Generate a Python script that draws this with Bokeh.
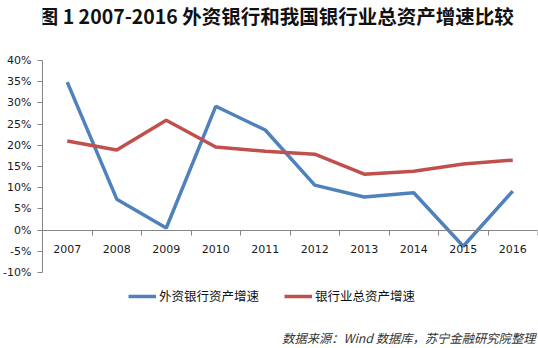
from bokeh.plotting import figure
from bokeh.models import (FixedTicker, Range1d, Legend, LegendItem, Label, ColumnDataSource)
from bokeh.embed import file_html
from bokeh.resources import INLINE

years = ["2007", "2008", "2009", "2010", "2011", "2012", "2013", "2014", "2015", "2016"]
foreign_growth = [34.9, 7.3, 0.5, 29.2, 23.6, 10.6, 7.8, 8.8, -3.8, 9.2]
industry_growth = [21.0, 18.9, 25.9, 19.6, 18.6, 17.9, 13.2, 13.9, 15.6, 16.5]
y_ticks = [-10, -5, 0, 5, 10, 15, 20, 25, 30, 35, 40]
title_text = "图 1  2007-2016 外资银行和我国银行业总资产增速比较"
series_names = ["外资银行资产增速", "银行业总资产增速"]
source_text = "数据来源：Wind 数据库，苏宁金融研究院整理"

# frame geometry (pixels): frame spans y=0..FB, 40% at y=60, -10% at y=272
FB = 348
ppu = (272 - 60) / 50.0
y_top = 40 + 60 / ppu
y_bot = -10 - (FB - 272) / ppu

xs = list(range(len(years)))
src = ColumnDataSource(dict(x=xs, a=foreign_growth, b=industry_growth))

p = figure(width=538, height=348, output_backend="svg", toolbar_location=None,
           x_range=Range1d(-0.5, 9.5), y_range=Range1d(y_bot, y_top),
           min_border_left=37, min_border_right=1, min_border_top=0, min_border_bottom=0)
p.title.visible = False
p.outline_line_color = None
p.grid.grid_line_color = None
p.background_fill_color = "white"
p.border_fill_color = "white"

axis_color = "#868686"
# x axis
p.xaxis.fixed_location = 0
p.xaxis.bounds = (-0.5, 9.5)
p.xaxis.ticker = FixedTicker(ticks=xs, minor_ticks=[i + 0.5 for i in xs])
p.xaxis.major_label_overrides = {i: y for i, y in enumerate(years)}
p.xaxis.major_tick_out = 0
p.xaxis.major_tick_in = 0
p.xaxis.minor_tick_out = 5
p.xaxis.minor_tick_in = 0
p.xaxis.minor_tick_line_color = axis_color
p.xaxis.axis_line_color = axis_color
p.xaxis.major_label_text_font = "DejaVu Sans"
p.xaxis.major_label_text_font_size = "11px"
p.xaxis.major_label_text_color = "#1a1a1a"
p.xaxis.major_label_standoff = 10

# y axis
p.yaxis.bounds = (-10, 40)
p.yaxis.ticker = FixedTicker(ticks=y_ticks)
p.yaxis.major_label_overrides = {t: f"{t}%" for t in y_ticks}
p.yaxis.minor_tick_line_color = None
p.yaxis.major_tick_out = 5
p.yaxis.major_tick_in = 0
p.yaxis.major_tick_line_color = axis_color
p.yaxis.axis_line_color = axis_color
p.yaxis.major_label_text_font = "DejaVu Sans"
p.yaxis.major_label_text_font_size = "11px"
p.yaxis.major_label_text_color = "#1a1a1a"
p.yaxis.major_label_standoff = 6

r1 = p.line("x", "a", source=src, line_color="#4F81BD", line_width=3.5)
r2 = p.line("x", "b", source=src, line_color="#C0504D", line_width=3.5)

legend = Legend(items=[LegendItem(label=series_names[0], renderers=[r1]),
                       LegendItem(label=series_names[1], renderers=[r2])],
                orientation="horizontal", location=(86, FB - 305),
                glyph_width=28, glyph_height=14, label_standoff=3, spacing=25,
                padding=0, margin=0, border_line_color=None, background_fill_alpha=0,
                label_text_font="Noto Sans CJK SC", label_text_font_size="12.5px",
                label_text_color="#111111")
p.add_layout(legend, "center")

title = Label(x=273 - 37, y=FB - 15, x_units="screen", y_units="screen", text=title_text,
              text_align="center", text_baseline="middle", text_font="Noto Sans CJK SC",
              text_font_style="bold", text_font_size="19.5px", text_color="#111111")
p.add_layout(title)

source = Label(x=530 - 37, y=FB - 337, x_units="screen", y_units="screen", text=source_text,
               text_align="right", text_baseline="middle", text_font="Noto Sans CJK SC",
               text_font_style="italic", text_font_size="12.3px", text_color="#333333")
p.add_layout(source)

open("out.html", "w").write(file_html(p, INLINE))
